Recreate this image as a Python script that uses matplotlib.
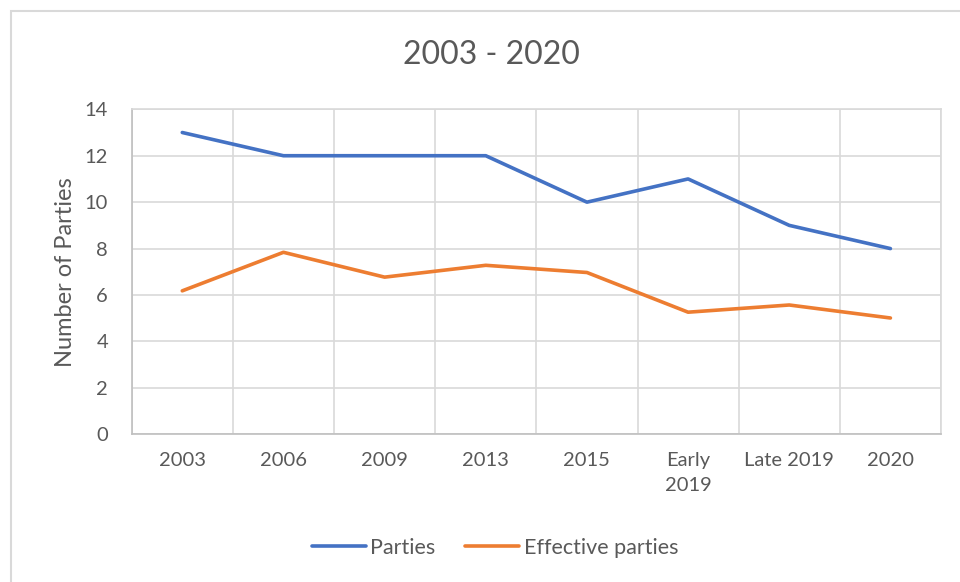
import matplotlib.pyplot as plt
from matplotlib.patches import Rectangle

plt.rcParams['font.family'] = ['Lato', 'DejaVu Sans']

years = ['2003', '2006', '2009', '2013', '2015', 'Early\n2019', 'Late 2019', '2020']
parties = [13, 12, 12, 12, 10, 11, 9, 8]
effective = [6.18, 7.84, 6.77, 7.28, 6.97, 5.26, 5.57, 5.01]

txt = '#595959'
blue = '#4472C4'
orange = '#ED7D31'

fig = plt.figure(figsize=(9.6, 5.82), dpi=100)
ax = fig.add_axes([131.7/960, 1 - 434.3/582, (941 - 131.7)/960, (434.3 - 109.3)/582])

# outer chart border (runs off the right and bottom edges)
fig.patches.append(Rectangle((11/960, -0.1), 1.2, 1 - 11/582 + 0.1,
                             transform=fig.transFigure, fill=False,
                             edgecolor='#D9D9D9', linewidth=1.5))

x = list(range(len(years)))
ax.plot(x, parties, color=blue, lw=2.6, label='Parties', solid_capstyle='round')
ax.plot(x, effective, color=orange, lw=2.6, label='Effective parties', solid_capstyle='round')

ax.set_xlim(-0.5, len(years) - 0.5)
ax.set_ylim(0, 14)
ax.set_yticks(range(0, 15, 2))
ax.set_xticks(x)
ax.set_xticklabels(years, linespacing=1.55)
ax.set_xticks([i + 0.5 for i in range(-1, len(years))], minor=True)

ax.grid(axis='y', color='#D9D9D9', lw=1.2)
ax.grid(axis='x', which='minor', color='#D9D9D9', lw=1.2)
ax.set_axisbelow(True)

ax.tick_params(axis='x', which='both', length=0, pad=13, labelsize=14.5, labelcolor=txt)
ax.tick_params(axis='y', length=0, pad=17, labelsize=14.5, labelcolor=txt)

for side in ['left', 'bottom']:
    ax.spines[side].set_color('#BFBFBF')
    ax.spines[side].set_linewidth(1.2)
for side in ['top', 'right']:
    ax.spines[side].set_color('#D9D9D9')
    ax.spines[side].set_linewidth(1.2)

ax.set_ylabel('Number of Parties', fontsize=17, color=txt, labelpad=6)
fig.text(491/960, 1 - 55/582, '2003 - 2020', ha='center', va='center',
         fontsize=23, color=txt)

fig.legend(loc='center', bbox_to_anchor=(495/960, 1 - 548/582), ncol=2,
           frameon=False, fontsize=15.5, labelcolor=txt, handlelength=2.5,
           columnspacing=1.4, handletextpad=0.2)

fig.savefig('out.png', dpi=100)
